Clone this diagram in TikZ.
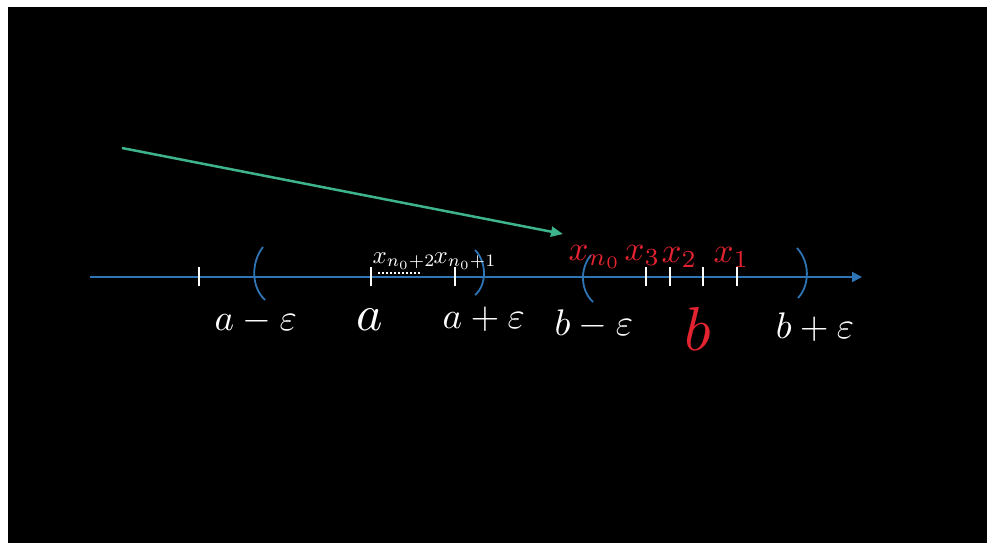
\documentclass[tikz,border=0pt]{standalone}
\usetikzlibrary{arrows.meta}
\definecolor{axblue}{RGB}{46,117,182}
\definecolor{ptred}{RGB}{228,35,48}
\definecolor{ptgreen}{RGB}{62,180,140}
\begin{document}
\begin{tikzpicture}[x=1pt,y=-1pt,
  axisline/.style={axblue,line width=2pt,-{Triangle[length=10pt,width=10pt]}},
  tickmark/.style={white,line width=2pt},
  paren/.style={axblue,line width=1.8pt},
  lbl/.style={white,inner sep=0pt,anchor=base west,scale=3.7},
  biglbl/.style={white,inner sep=0pt,anchor=base west,scale=5},
  redbig/.style={ptred,inner sep=0pt,anchor=base west,scale=6.2},
  redlbl/.style={ptred,inner sep=0pt,anchor=base west,scale=3.5},
  smalllbl/.style={white,inner sep=0pt,anchor=base west,scale=2.5},
  pointer/.style={ptgreen,line width=2.5pt,-{Triangle[length=12pt,width=10pt]}}]
\useasboundingbox (0,0) rectangle (987,543);
\fill[white] (0,0) rectangle (987,543);
\fill[black] (8,7) rectangle (987,543);

% axis
\coordinate (axs) at (90,277);
\coordinate (axe) at (862,277);
\draw[axisline] (axs) -- (axe);

% ticks
\foreach \n/\x in {t1/199,ta/371,tb/455,tc/646,td/670,te/703,tf/737}{
  \coordinate (\n top) at (\x,267);
  \coordinate (\n bot) at (\x,286);
  \draw[tickmark] (\n top) -- (\n bot);
}

% dotted segment
\coordinate (ds) at (378,273);
\coordinate (de) at (420,273);
\draw[white,line width=2pt,dash pattern=on 2pt off 2pt] (ds) -- (de);

% parentheses
\draw[paren] (263,247) .. controls (251,262) and (251,287) .. (265,300);
\draw[paren] (475,250) .. controls (487,262) and (487,285) .. (475,295);
\draw[paren] (591,255) .. controls (580,268) and (580,290) .. (593,302);
\draw[paren] (797,248) .. controls (810,262) and (810,285) .. (798,298);

% bottom labels
\node[lbl] (lame) at (214,330) {$a-\varepsilon$};
\node[biglbl] (la) at (355,330) {$a$};
\node[lbl] (lape) at (442,328) {$a+\varepsilon$};
\node[lbl] (lbme) at (554,335) {$b-\varepsilon$};
\node[redbig] (lb) at (683,350) {$b$};
\node[lbl] (lbpe) at (775,338) {$b+\varepsilon$};

% red sequence labels
\node[redlbl] (xn0) at (568,260) {$x_{n_0}$};
\node[redlbl] (x3) at (624,260) {$x_3$};
\node[redlbl] (x2) at (661,262) {$x_2$};
\node[redlbl] (x1) at (713,262) {$x_1$};

% white small labels
\node[smalllbl] (xa) at (372,263) {$x_{n_0+2}$};
\node[smalllbl] (xb) at (433,263) {$x_{n_0+1}$};

% green pointer
\coordinate (ps) at (122,148);
\coordinate (pe) at (563,234);
\draw[pointer] (ps) -- (pe);
\end{tikzpicture}
\end{document}
